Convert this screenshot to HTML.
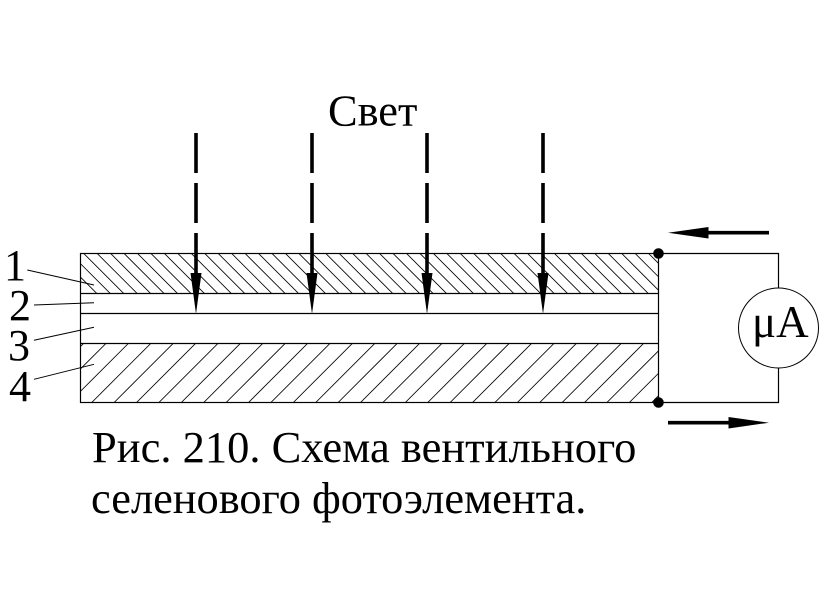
<!DOCTYPE html>
<html>
<head>
<meta charset="utf-8">
<style>
html,body{margin:0;padding:0;background:#fff;}
svg{display:block;}
text{font-family:"Liberation Serif",serif;fill:#000;}
</style>
</head>
<body>
<svg width="822" height="608" viewBox="0 0 822 608" xmlns="http://www.w3.org/2000/svg">
<defs>
<clipPath id="t"><rect x="80.5" y="253.5" width="578" height="40"/></clipPath>
<clipPath id="b"><rect x="80.5" y="343" width="578" height="59.5"/></clipPath>
</defs>
<rect width="822" height="608" fill="#fff"/>
<g clip-path="url(#t)" stroke="#000" stroke-width="0.85" fill="none">
<path d="M56.35 253l41 41M69.8 253l41 41M83.25 253l41 41M96.7 253l41 41M110.15 253l41 41M123.6 253l41 41M137.05 253l41 41M150.5 253l41 41M163.95 253l41 41M177.4 253l41 41M190.85 253l41 41M204.3 253l41 41M217.75 253l41 41M231.2 253l41 41M244.65 253l41 41M258.1 253l41 41M271.55 253l41 41M285 253l41 41M298.45 253l41 41M311.9 253l41 41M325.35 253l41 41M338.8 253l41 41M352.25 253l41 41M365.7 253l41 41M379.15 253l41 41M392.6 253l41 41M406.05 253l41 41M419.5 253l41 41M432.95 253l41 41M446.4 253l41 41M459.85 253l41 41M473.3 253l41 41M486.75 253l41 41M500.2 253l41 41M513.65 253l41 41M527.1 253l41 41M540.55 253l41 41M554 253l41 41M567.45 253l41 41M580.9 253l41 41M594.35 253l41 41M607.8 253l41 41M621.25 253l41 41M634.7 253l41 41M648.15 253l41 41"/>
</g>
<g clip-path="url(#b)" stroke="#000" stroke-width="0.85" fill="none">
<path d="M24.5 402.5l60-60M46.9 402.5l60-60M69.3 402.5l60-60M91.7 402.5l60-60M114.1 402.5l60-60M136.5 402.5l60-60M158.9 402.5l60-60M181.3 402.5l60-60M203.7 402.5l60-60M226.1 402.5l60-60M248.5 402.5l60-60M270.9 402.5l60-60M293.3 402.5l60-60M315.7 402.5l60-60M338.1 402.5l60-60M360.5 402.5l60-60M382.9 402.5l60-60M405.3 402.5l60-60M427.7 402.5l60-60M450.1 402.5l60-60M472.5 402.5l60-60M494.9 402.5l60-60M517.3 402.5l60-60M539.7 402.5l60-60M562.1 402.5l60-60M584.5 402.5l60-60M606.9 402.5l60-60M629.3 402.5l60-60M651.7 402.5l60-60"/>
</g>
<g stroke="#000" stroke-width="1.2" fill="none">
<rect x="80.5" y="253.5" width="578" height="149"/>
<path d="M80.5 293.5H658.5M80.5 313.5H658.5M80.5 343.5H658.5"/>
<path d="M658.5 253.5H778.5V288M778.5 368V402.5H658.5"/>
<circle cx="778.5" cy="328" r="40" fill="#fff" stroke-width="1"/>
<path stroke-width="1" d="M27.3 270L94 285M34 305L94 302.7M34 340.3L94 327.3M34 379.3L94 364.3"/>
</g>
<circle cx="658.5" cy="253.5" r="5.3" fill="#000"/>
<circle cx="658.5" cy="402.5" r="5.3" fill="#000"/>
<g stroke="#000" stroke-width="3.6" fill="none">
<path d="M196 133V173M196 183V223M196 233V276"/>
<path d="M312 133V173M312 183V223M312 233V276"/>
<path d="M427 133V173M427 183V223M427 233V276"/>
<path d="M543 133V173M543 183V223M543 233V276"/>
<path d="M705 232.7H769"/>
<path d="M668 422.7H732"/>
</g>
<g fill="#000">
<polygon points="190.5,273 201.5,273 196,314"/>
<polygon points="306.5,273 317.5,273 312,314"/>
<polygon points="421.5,273 432.5,273 427,314"/>
<polygon points="537.5,273 548.5,273 543,314"/>
<polygon points="668,232.7 708.5,227 708.5,238.5"/>
<polygon points="769,422.7 728.5,417 728.5,428.5"/>
</g>
<text x="328" y="125.5" font-size="44.4">Свет</text>
<text x="4" y="280" font-size="44">1</text>
<text x="9" y="320" font-size="44">2</text>
<text x="8" y="360" font-size="44">3</text>
<text x="9" y="401" font-size="44">4</text>
<text x="752" y="337" font-size="45">μA</text>
<text x="92" y="462" font-size="44.5">Рис. 210. Схема вентильного</text>
<text x="91" y="513" font-size="44.4">селенового фотоэлемента.</text>
</svg>
</body>
</html>
